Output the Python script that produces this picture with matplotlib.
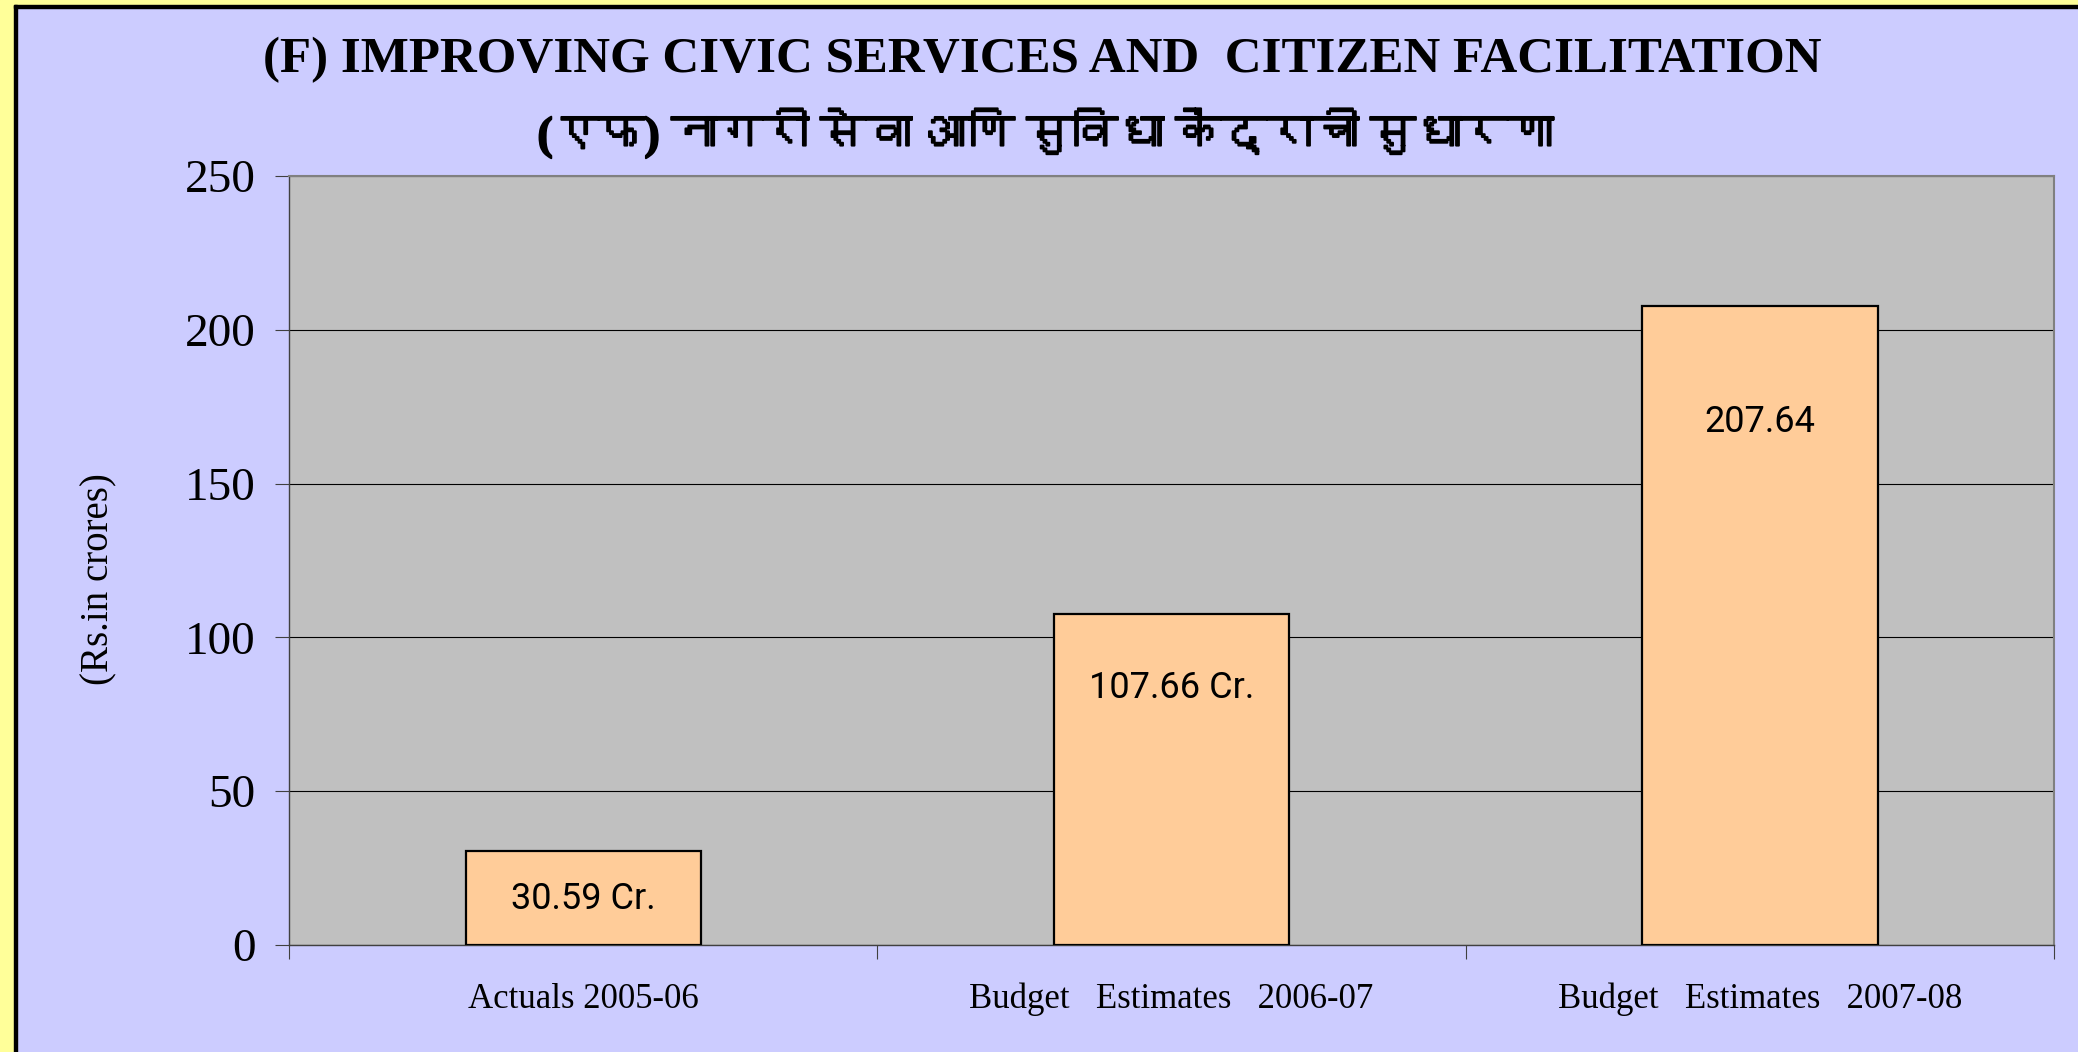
import matplotlib
matplotlib.use('Agg')
import matplotlib.pyplot as plt
import matplotlib.patheffects as pe
from matplotlib import font_manager
from matplotlib.ft2font import FT2Font
from matplotlib.patches import Rectangle

categories = ['Actuals 2005-06', 'Budget   Estimates   2006-07', 'Budget   Estimates   2007-08']
values = [30.59, 107.66, 207.64]
bar_labels = ['30.59 Cr.', '107.66 Cr.', '207.64']
label_heights = [15, 83.5, 170]
yticks = [0, 50, 100, 150, 200, 250]

title_en = '(F) IMPROVING CIVIC SERVICES AND  CITIZEN FACILITATION'
title_mr = '(एफ) नागरी सेवा आणि सुविधा केंद्राची सुधारणा'


def find_devanagari_font():
    for f in font_manager.fontManager.ttflist:
        try:
            if 0x0928 in FT2Font(f.fname).get_charmap():
                return f.name
        except Exception:
            pass
    return None


deva = find_devanagari_font()
mr_family = ['Liberation Serif'] + ([deva] if deva else []) + ['DejaVu Sans']

W, H = 2078, 1052
fig = plt.figure(figsize=(W / 100, H / 100), dpi=100, facecolor='#CCCCFF')

# yellow frame on the left and top, with a black rule
fig.patches.append(Rectangle((0, 0), 14 / W, 1, transform=fig.transFigure, color='#FFFF99', zorder=0))
fig.patches.append(Rectangle((0, 1 - 5 / H), 1, 5 / H, transform=fig.transFigure, color='#FFFF99', zorder=0))
fig.patches.append(Rectangle((14 / W, 0), 3 / W, 1 - 5 / H, transform=fig.transFigure, color='black', zorder=0))
fig.patches.append(Rectangle((14 / W, 1 - 8 / H), 1, 3 / H, transform=fig.transFigure, color='black', zorder=0))

L, R, T, B = 289, 2054, 176, 945
ax = fig.add_axes([L / W, 1 - B / H, (R - L) / W, (B - T) / H])
ax.set_facecolor('#C0C0C0')

x = list(range(len(values)))
ax.bar(x, values, width=0.4, color='#FFCC99', edgecolor='black', linewidth=1.6, zorder=3)

for xi, lab, h in zip(x, bar_labels, label_heights):
    ax.text(xi, h, lab, ha='center', va='center', fontsize=26,
            family=['Roboto', 'DejaVu Sans'], zorder=4)

ax.set_xlim(-0.5, len(values) - 0.5)
ax.set_ylim(0, 250)
ax.set_yticks(yticks)
ax.set_yticklabels([str(t) for t in yticks], family='Liberation Serif', fontsize=34)
ax.yaxis.grid(True, color='black', linewidth=0.8, zorder=1)
ax.set_axisbelow(True)

ax.set_xticks(x)
ax.set_xticklabels(categories, family='Liberation Serif', fontsize=25)
ax.tick_params(axis='x', which='major', length=0, pad=27)
ax.set_xticks([i - 0.5 for i in range(len(values) + 1)], minor=True)
ax.tick_params(axis='x', which='minor', length=10, width=0.8, color='#404040', direction='out')
ax.tick_params(axis='y', length=10, width=0.8, color='#404040', direction='out', pad=14)

for side in ['top', 'right']:
    ax.spines[side].set_color('#808080')
    ax.spines[side].set_linewidth(1.5)
for side in ['left', 'bottom']:
    ax.spines[side].set_color('#404040')
    ax.spines[side].set_linewidth(1.0)

ax.set_ylabel('(Rs.in crores)', family='Liberation Serif', fontsize=28)
ax.yaxis.set_label_coords((99 - L) / (R - L), (B - 579) / (B - T))
ax.yaxis.label.set_va('center')

fig.text(1042 / W, 1 - 60 / H, title_en, ha='center', va='center', fontsize=36.7,
         fontweight='bold', family='Liberation Serif')
fig.text(1046 / W, 1 - 133 / H, title_mr, ha='center', va='center', fontsize=33,
         fontweight='bold', family=mr_family,
         path_effects=[pe.withStroke(linewidth=1.4, foreground='black')])

fig.savefig('out.png', dpi=100, facecolor=fig.get_facecolor())
